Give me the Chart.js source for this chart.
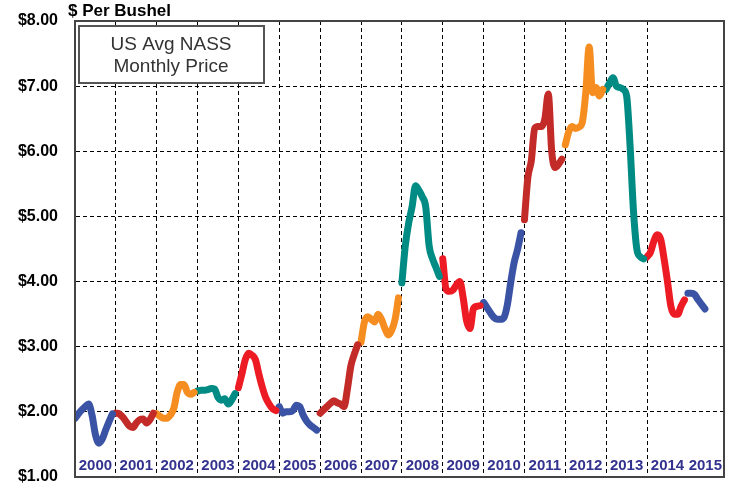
<!DOCTYPE html>
<html>
<head>
<meta charset="utf-8">
<script src="https://cdn.jsdelivr.net/npm/chart.js@4"></script>
<style>
html,body{margin:0;padding:0;background:#fff;}
#wrap{width:738px;height:488px;}
</style>
</head>
<body>
<div id="wrap"><canvas id="c" width="738" height="488"></canvas></div>
<script>
// monthly price, $ per bushel, Jan..Dec of each year
const years=[2000,2001,2002,2003,2004,2005,2006,2007,2008,2009,2010,2011,2012,2013,2014,2015];
const p2000=[1.90,1.97,2.03,2.08,2.12,1.95,1.65,1.52,1.58,1.72,1.85,1.97];
const p2001=[1.98,1.97,1.92,1.85,1.78,1.76,1.83,1.88,1.89,1.83,1.88,1.98];
const p2002=[1.97,1.93,1.90,1.90,1.95,2.05,2.30,2.42,2.42,2.30,2.27,2.30];
const p2003=[2.32,2.33,2.33,2.34,2.36,2.35,2.22,2.18,2.20,2.12,2.18,2.28];
const p2004=[2.37,2.58,2.80,2.90,2.87,2.80,2.58,2.38,2.22,2.12,2.05,2.02];
const p2005=[2.08,1.98,2.00,2.00,2.02,2.10,2.08,1.95,1.86,1.80,1.76,1.72];
const p2006=[1.98,2.03,2.08,2.13,2.17,2.14,2.12,2.08,2.35,2.70,2.88,3.03];
const p2007=[3.07,3.38,3.46,3.42,3.38,3.50,3.42,3.28,3.18,3.25,3.42,3.75];
const p2008=[3.98,4.55,4.90,5.15,5.47,5.40,5.30,5.15,4.55,4.35,4.22,4.08];
const p2009=[4.35,3.88,3.85,3.87,3.95,4.00,3.75,3.40,3.28,3.58,3.62,3.63];
const p2010=[3.68,3.60,3.52,3.45,3.42,3.42,3.45,3.65,4.00,4.30,4.50,4.75];
const p2011=[4.95,5.60,5.85,6.35,6.38,6.38,6.50,6.88,6.00,5.75,5.80,5.88];
const p2012=[6.10,6.30,6.38,6.35,6.37,6.45,6.90,7.60,6.90,6.98,6.85,6.95];
const p2013=[6.95,7.05,7.13,7.00,6.98,6.95,6.85,6.10,5.10,4.50,4.38,4.35];
const p2014=[4.38,4.45,4.62,4.72,4.65,4.35,4.00,3.62,3.50,3.50,3.62,3.72];
const p2015=[3.82,3.82,3.80,3.72,3.65,3.58];
const yearPrices=[p2000,p2001,p2002,p2003,p2004,p2005,p2006,p2007,p2008,p2009,p2010,p2011,p2012,p2013,p2014,p2015];
const yTicks=[1,2,3,4,5,6,7,8];
const palette=['#3a53a4','#c22b27','#f68d20','#008b84','#ed1c24'];

const datasets=years.map((y,i)=>({
  label:String(y),
  data:yearPrices[i].map((v,k)=>({x:i*12+k,y:v})),
  borderColor:palette[i%palette.length],
  borderWidth:7,
  pointRadius:0,
  borderCapStyle:'round',borderJoinStyle:'round',
  cubicInterpolationMode:'monotone',
  fill:false
}));

function noPad(s){ s.paddingTop=0; s.paddingBottom=0; s.paddingLeft=0; s.paddingRight=0; }

const overlay={
  id:'overlay',
  afterDraw(chart){
    const ctx=chart.ctx, a=chart.chartArea, xs=chart.scales.x;
    ctx.save();
    // frame
    ctx.strokeStyle='#444'; ctx.lineWidth=2; ctx.setLineDash([]);
    ctx.strokeRect(a.left,a.top,a.right-a.left,a.bottom-a.top);
    // year labels inside the plot
    ctx.font='bold 15px Arial, "Liberation Sans", sans-serif';
    ctx.fillStyle='#33338f'; ctx.textAlign='center'; ctx.textBaseline='middle';
    years.forEach((y,i)=>{
      const w=ctx.measureText(String(y)).width;
      let cx=xs.getPixelForValue(i*12+6);
      cx=Math.min(cx,a.right-w/2-2);
      ctx.fillText(String(y),cx,a.bottom-11);
    });
    // axis title
    ctx.font='bold 17px Arial, "Liberation Sans", sans-serif';
    ctx.fillStyle='#000'; ctx.textAlign='left';
    ctx.fillText('$ Per Bushel',68,11);
    // legend box
    ctx.fillStyle='#fff'; ctx.fillRect(79,26,185,57);
    ctx.strokeStyle='#555'; ctx.lineWidth=2; ctx.strokeRect(79,26,185,57);
    ctx.font='19px Arial, "Liberation Sans", sans-serif';
    ctx.fillStyle='#333'; ctx.textAlign='center';
    ctx.fillText('US Avg NASS',171,45);
    ctx.fillText('Monthly Price',171,67);
    ctx.restore();
  }
};

new Chart(document.getElementById('c').getContext('2d'),{
  type:'line',
  data:{datasets},
  options:{
    responsive:false,animation:false,devicePixelRatio:1,
    layout:{padding:{left:0,top:21,right:14,bottom:11}},
    plugins:{legend:{display:false},tooltip:{enabled:false}},
    scales:{
      x:{type:'linear',min:0,max:190.6,
        afterFit(s){s.height=0; noPad(s);},
        ticks:{display:false,stepSize:12},
        grid:{color:'#000',lineWidth:1,drawTicks:false},
        border:{display:true,color:'#444',width:2,dash:[4,3]}},
      y:{min:1,max:8,
        afterFit(s){s.width=75; noPad(s);},
        afterBuildTicks(s){s.ticks=yTicks.map(v=>({value:v}));},
        ticks:{padding:17,color:'#000',font:{family:'Arial, "Liberation Sans", sans-serif',size:16,weight:'bold'},callback:v=>'$'+Number(v).toFixed(2)},
        grid:{color:'#000',lineWidth:1,drawTicks:false},
        border:{display:true,color:'#444',width:2,dash:[4,3]}}
    }
  },
  plugins:[overlay]
});
</script>
</body>
</html>
